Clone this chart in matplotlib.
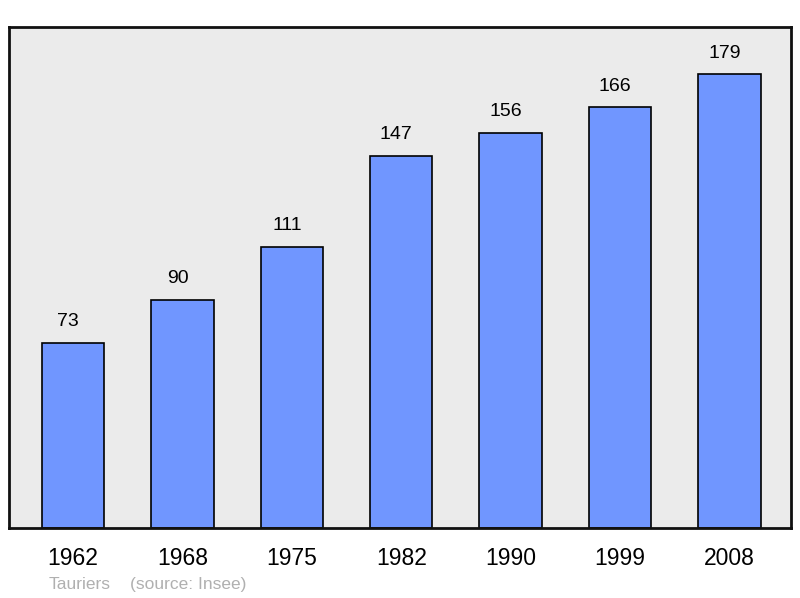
import numpy as np
import matplotlib
matplotlib.use("Agg")
import matplotlib.pyplot as plt

years = ["1962", "1968", "1975", "1982", "1990", "1999", "2008"]
population = [73, 90, 111, 147, 156, 166, 179]
town = "Tauriers"
source = "(source: Insee)"


def main():
    plt.rcParams['font.family'] = ['Liberation Sans', 'DejaVu Sans']
    fig = plt.figure(figsize=(8, 5.98), dpi=100)
    ax = fig.add_axes([0.01125, 0.117, 0.9775, 0.8378])
    ax.set_facecolor("#ebebeb")

    x = np.arange(len(years))
    ax.bar(x, population, width=0.57, color="#7096ff", edgecolor="black", linewidth=1.2, zorder=2)
    for xi, v in zip(x, population):
        # labels sit a little left of the bar centre in the original
        ax.text(xi - 0.045, v + 5, str(v), ha="center", va="bottom", fontsize=14)

    ax.set_xlim(-0.585, 6.562)
    ax.set_ylim(0, 197.7)
    ax.set_yticks([])
    ax.set_xticks(x)
    ax.set_xticklabels(years, fontsize=16.5)
    ax.tick_params(axis="x", length=0, pad=14)
    for s in ax.spines.values():
        s.set_linewidth(2)
        s.set_color("#111111")

    fig.text(0.061, 0.015, town, color="#b0b0b0", fontsize=12.5)
    fig.text(0.162, 0.015, source, color="#b0b0b0", fontsize=12.5)

    fig.savefig("out.png", dpi=100)


if __name__ == "__main__":
    main()
